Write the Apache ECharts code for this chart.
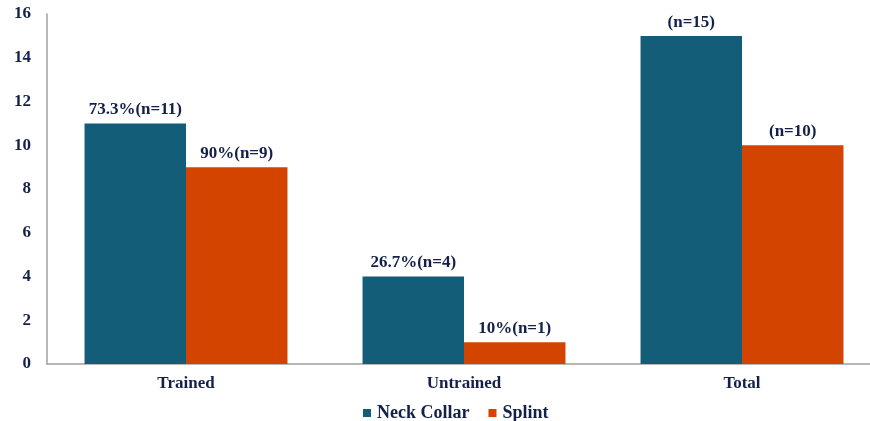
<!DOCTYPE html>
<html><head><meta charset="utf-8">
<script src="https://cdn.jsdelivr.net/npm/echarts@6/dist/echarts.min.js"></script>
<style>html,body{margin:0;padding:0;background:#fff}#c{width:870px;height:421px}</style>
</head><body><div id="c"></div>
<script>
const categories = ["Trained", "Untrained", "Total"];
const neckCollar = [11, 4, 15];
const splint = [9, 1, 10];
const neckLabels = ["73.3%(n=11)", "26.7%(n=4)", "(n=15)"];
const splintLabels = ["90%(n=9)", "10%(n=1)", "(n=10)"];
const yTicks = { min: 0, max: 16, interval: 2 };

const txt = '#14204a';
const font = '"Liberation Serif", "Times New Roman", serif';
const chart = echarts.init(document.getElementById('c'));
chart.setOption({
  animation: false,
  textStyle: { fontFamily: font },
  grid: { left: 47, width: 834, top: 14, bottom: 57, containLabel: false, outerBoundsMode: 'none' },
  legend: {
    data: ['Neck Collar', 'Splint'], top: 399, left: 358,
    itemWidth: 8, itemHeight: 8, itemGap: 19, icon: 'rect',
    textStyle: { fontFamily: font, fontWeight: 'bold', fontSize: 18, color: txt, padding: [0, 0, 0, 1] }
  },
  xAxis: {
    type: 'category', data: categories,
    axisLine: { lineStyle: { color: '#a0a0a0', width: 1.5 } },
    axisTick: { show: false },
    axisLabel: { fontFamily: font, fontWeight: 'bold', fontSize: 17, color: txt, margin: 11 }
  },
  yAxis: {
    type: 'value', min: yTicks.min, max: yTicks.max, interval: yTicks.interval,
    axisLine: { show: true, lineStyle: { color: '#a0a0a0', width: 1.5 } },
    axisTick: { show: false },
    splitLine: { show: false },
    axisLabel: { fontFamily: font, fontWeight: 'bold', fontSize: 17, color: txt, margin: 16 }
  },
  series: [
    { name: 'Neck Collar', type: 'bar', data: neckCollar, barGap: '0%', barCategoryGap: '27%',
      itemStyle: { color: '#135d79' },
      label: { show: true, position: 'top', distance: 5, fontFamily: font, fontWeight: 'bold', fontSize: 17, color: txt,
        formatter: p => neckLabels[p.dataIndex] } },
    { name: 'Splint', type: 'bar', data: splint,
      itemStyle: { color: '#d24400' },
      label: { show: true, position: 'top', distance: 5, fontFamily: font, fontWeight: 'bold', fontSize: 17, color: txt,
        formatter: p => splintLabels[p.dataIndex] } }
  ]
});
</script></body></html>
